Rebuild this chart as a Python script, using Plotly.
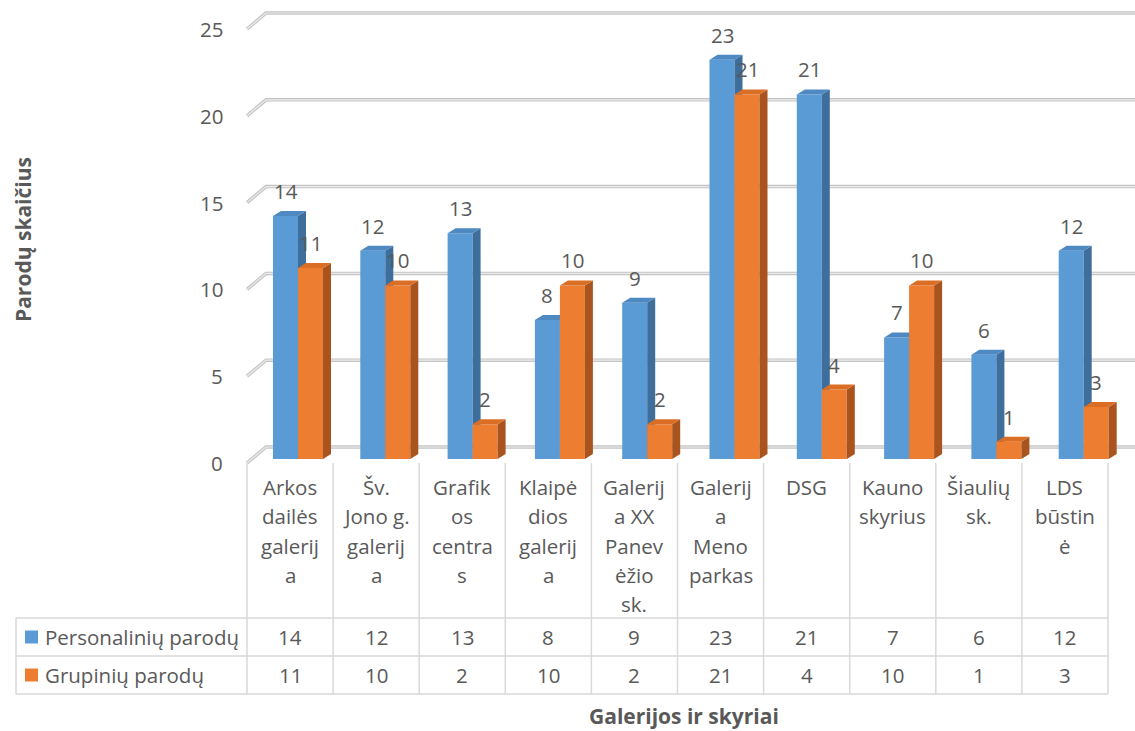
import plotly.graph_objects as go

# ---------------- data ----------------
category_lines = [
    ["Arkos", "dailės", "galerij", "a"],
    ["Šv.", "Jono g.", "galerij", "a"],
    ["Grafik", "os", "centra", "s"],
    ["Klaipė", "dios", "galerij", "a"],
    ["Galerij", "a XX", "Panev", "ėžio", "sk."],
    ["Galerij", "a", "Meno", "parkas"],
    ["DSG"],
    ["Kauno", "skyrius"],
    ["Šiaulių", "sk."],
    ["LDS", "būstin", "ė"],
]
series_names = ["Personalinių parodų", "Grupinių parodų"]
personal = [14, 12, 13, 8, 9, 23, 21, 7, 6, 12]
group = [11, 10, 2, 10, 2, 21, 4, 10, 1, 3]
y_ticks = [0, 5, 10, 15, 20, 25]
y_title = "Parodų skaičius"
x_title = "Galerijos ir skyriai"

# ---------------- styling ----------------
W, H = 1135, 731
FONT = "'Open Sans', Lato, sans-serif"
TXT = "#595959"
BLUE, BLUE_TOP, BLUE_SIDE = "#5B9BD5", "#4E89C2", "#3E6E9C"
ORNG, ORNG_TOP, ORNG_SIDE = "#ED7D31", "#DB6E25", "#A9541E"
FS = 20.5

PXX = 87.3      # px per category
PXY = 17.36     # px per value unit
X_ORIG = 298.0  # px of x = 0
Y_ORIG = 459.0  # px of y = 0 (bar front plane)

x_range = [-X_ORIG / PXX, (W - X_ORIG) / PXX]
y_range = [-(H - Y_ORIG) / PXY, Y_ORIG / PXY]

BW = 25 / PXX            # bar width (x units)
DDX, DDY = 8 / PXX, 5 / PXY   # bar depth
idx = list(range(len(personal)))


def px(xp):
    return xp / W


def py(yp):
    return 1 - yp / H


fig = go.Figure()


def faces(values, off):
    top_x, top_y, side_x, side_y = [], [], [], []
    for i, v in zip(idx, values):
        x0, x1 = i + off, i + off + BW
        top_x += [x0, x1, x1 + DDX, x0 + DDX, x0, None]
        top_y += [v, v, v + DDY, v + DDY, v, None]
        side_x += [x1, x1, x1 + DDX, x1 + DDX, x1, None]
        side_y += [0, v, v + DDY, DDY, 0, None]
    return top_x, top_y, side_x, side_y


for k, (vals, off, cf, ct, cs, xa, ya) in enumerate([
    (personal, -BW, BLUE, BLUE_TOP, BLUE_SIDE, "x", "y"),
    (group, 0.0, ORNG, ORNG_TOP, ORNG_SIDE, "x2", "y2"),
]):
    fig.add_trace(go.Bar(x=idx, y=vals, offset=off, width=BW, name=series_names[k],
                         marker=dict(color=cf, line=dict(width=0)),
                         xaxis=xa, yaxis=ya, showlegend=False, hoverinfo="skip"))
    tx, ty, sx, sy = faces(vals, off)
    fig.add_trace(go.Scatter(x=sx, y=sy, fill="toself", fillcolor=cs, mode="none",
                             xaxis=xa, yaxis=ya, showlegend=False, hoverinfo="skip"))
    fig.add_trace(go.Scatter(x=tx, y=ty, fill="toself", fillcolor=ct, mode="none",
                             xaxis=xa, yaxis=ya, showlegend=False, hoverinfo="skip"))

shapes = []
annotations = []

# gridlines (back wall) + left diagonal
GX0 = (247 - X_ORIG) / PXX
GX1 = (266 - X_ORIG) / PXX
for t in y_ticks:
    yf = t - 4 / PXY
    yb = t + 12 / PXY
    for col, wdt in (("#c4c4c4", 3.5), ("#ececec", 1.2)):
        shapes.append(dict(type="path", xref="x", yref="y", layer="below",
                           path=f"M{GX0},{yf} L{GX1},{yb} L{x_range[1]},{yb}",
                           line=dict(color=col, width=wdt)))
    annotations.append(dict(x=(225 - X_ORIG) / PXX, y=yf, xref="x", yref="y",
                            text=str(t), showarrow=False, xanchor="right", yanchor="middle",
                            font=dict(family=FONT, size=FS, color=TXT)))

# data labels
for i in idx:
    annotations.append(dict(x=i - BW / 2, y=personal[i], xref="x", yref="y", yshift=25,
                            text=str(personal[i]), showarrow=False, yanchor="middle",
                            font=dict(family=FONT, size=FS, color=TXT)))
    annotations.append(dict(x=i + BW / 2, y=group[i], xref="x", yref="y", yshift=25,
                            text=str(group[i]), showarrow=False, yanchor="middle",
                            font=dict(family=FONT, size=FS, color=TXT)))

# data table
TL, TC0, TCW = 16, 247, 86.1
TR = TC0 + TCW * len(idx)
ROW_Y = [618, 656, 694]
LC = "#d9d9d9"
for k in range(len(idx) + 1):
    xx = TC0 + TCW * k
    shapes.append(dict(type="line", xref="paper", yref="paper", x0=px(xx), x1=px(xx),
                       y0=py(463), y1=py(694), line=dict(color=LC, width=1.5)))
shapes.append(dict(type="line", xref="paper", yref="paper", x0=px(TL), x1=px(TL),
                   y0=py(618), y1=py(694), line=dict(color=LC, width=1.5)))
for yy in ROW_Y:
    shapes.append(dict(type="line", xref="paper", yref="paper", x0=px(TL), x1=px(TR),
                       y0=py(yy), y1=py(yy), line=dict(color=LC, width=1.5)))

for r, (vals, col) in enumerate(((personal, BLUE), (group, ORNG))):
    yc = (ROW_Y[r] + ROW_Y[r + 1]) / 2
    shapes.append(dict(type="rect", xref="paper", yref="paper", x0=px(25), x1=px(38),
                       y0=py(yc - 6.5), y1=py(yc + 6.5), line=dict(width=0), fillcolor=col))
    annotations.append(dict(x=px(43), y=py(yc), xref="paper", yref="paper",
                            text=series_names[r], showarrow=False, xanchor="left", yanchor="middle",
                            font=dict(family=FONT, size=FS, color=TXT)))
    for i, v in enumerate(vals):
        annotations.append(dict(x=px(TC0 + TCW * (i + 0.5)), y=py(yc), xref="paper", yref="paper",
                                text=str(v), showarrow=False, xanchor="center", yanchor="middle",
                                font=dict(family=FONT, size=FS, color=TXT)))

# category labels
for i, lines in enumerate(category_lines):
    for j, ln in enumerate(lines):
        annotations.append(dict(x=px(TC0 + TCW * (i + 0.5)), y=py(487 + 29.3 * j),
                                xref="paper", yref="paper", text=ln, showarrow=False,
                                xanchor="center", yanchor="middle",
                                font=dict(family=FONT, size=FS, color=TXT)))

# axis titles
annotations.append(dict(x=px(23), y=py(240), xref="paper", yref="paper", text=f"<b>{y_title}</b>",
                        showarrow=False, textangle=-90, xanchor="center", yanchor="middle",
                        font=dict(family=FONT, size=21, color=TXT)))
annotations.append(dict(x=px(684), y=py(716), xref="paper", yref="paper", text=f"<b>{x_title}</b>",
                        showarrow=False, xanchor="center", yanchor="middle",
                        font=dict(family=FONT, size=21, color=TXT)))

ax = dict(visible=False, fixedrange=True)
fig.update_layout(
    width=W, height=H, margin=dict(l=0, r=0, t=0, b=0),
    paper_bgcolor="white", plot_bgcolor="rgba(0,0,0,0)",
    barmode="overlay", showlegend=False,
    xaxis=dict(range=x_range, domain=[0, 1], **ax),
    yaxis=dict(range=y_range, domain=[0, 1], **ax),
    xaxis2=dict(range=x_range, overlaying="x", domain=[0, 1], anchor="y2", **ax),
    yaxis2=dict(range=y_range, overlaying="y", domain=[0, 1], anchor="x2", **ax),
    shapes=shapes, annotations=annotations,
)

fig.write_html("out.html", config={"displayModeBar": False},
               post_script="document.body.style.margin='0';document.body.style.overflow='hidden';")
